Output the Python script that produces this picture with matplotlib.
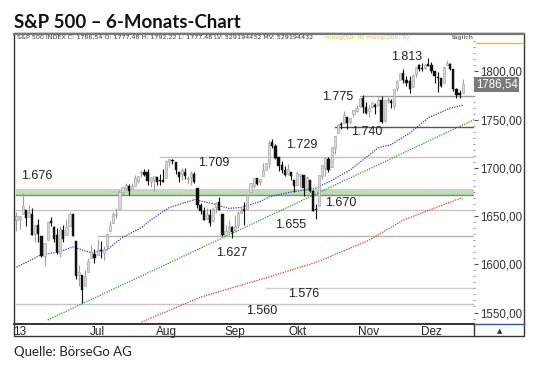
import numpy as np
import matplotlib.pyplot as plt
from matplotlib.patches import Rectangle
from matplotlib.lines import Line2D
from matplotlib.ticker import MultipleLocator

# --- Daten: S&P 500 Tageskerzen 23.05.2013 - 16.12.2013 (Index 0 = 23. Mai) ---
opens = [1646.0, 1647.0, 1652.6, 1656.6, 1649.1, 1652.1,
         1631.7, 1640.7, 1629.1, 1609.0, 1625.3,
         1644.7, 1638.6, 1629.9, 1612.2, 1635.5,
         1630.6, 1639.8, 1651.8, 1624.6, 1588.6,
         1588.8, 1577.5, 1592.3, 1606.4, 1611.1,
         1609.8, 1614.3, 1611.5, 1618.7,
         1634.2, 1642.9, 1651.6, 1657.4, 1675.3,
         1679.6, 1681.0, 1677.9, 1681.1, 1686.2,
         1694.4, 1696.1, 1696.1, 1685.2, 1687.3,
         1690.3, 1687.9, 1687.8,
         1689.4, 1706.1,
         1708.0, 1705.8, 1695.3, 1693.4, 1696.1,
         1688.4, 1690.7, 1693.9, 1679.6, 1661.2,
         1655.3, 1646.8, 1650.7, 1645.0, 1659.9,
         1664.3, 1652.5, 1630.3, 1633.5, 1638.9,
         1635.9, 1640.7, 1653.3, 1657.4,
         1656.9, 1675.1, 1681.0, 1689.2, 1685.0,
         1691.7, 1697.7, 1705.0, 1727.3, 1722.4,
         1711.4, 1702.6, 1698.0, 1694.1, 1695.5,
         1687.3,
         1682.4, 1691.9, 1692.4, 1678.8,
         1687.2, 1676.2, 1657.0, 1660.9, 1691.1,
         1699.9, 1709.2, 1700.5, 1720.2, 1736.7,
         1745.2, 1746.5, 1752.3, 1747.5, 1756.0,
         1759.4, 1762.9, 1772.3, 1763.2,
         1758.7,
         1763.4, 1765.7, 1765.0, 1770.7, 1748.4,
         1770.0, 1769.5, 1764.0, 1782.8, 1790.7,
         1798.8, 1790.8, 1789.6, 1783.5, 1797.2,
         1806.3, 1802.9, 1803.5, 1808.0,
         1806.6, 1800.1, 1794.1, 1792.8, 1788.4,
         1806.2, 1807.6, 1802.8, 1781.7, 1778.0,
         1777.5]
highs = [1654.0, 1649.8, 1674.2, 1656.6, 1661.9, 1658.9,
         1640.4, 1646.5, 1629.3, 1622.6, 1644.4,
         1648.7, 1640.1, 1637.7, 1639.3, 1640.8,
         1646.5, 1654.2, 1652.5, 1624.6, 1599.2,
         1588.8, 1593.8, 1606.8, 1620.1, 1615.9,
         1626.6, 1624.3, 1619.0, 1632.1,
         1644.7, 1654.2, 1657.9, 1676.6, 1680.2,
         1684.5, 1683.0, 1684.8, 1693.1, 1692.1,
         1697.6, 1698.8, 1698.4, 1690.9, 1691.9,
         1690.9, 1693.2, 1698.4,
         1707.9, 1709.7,
         1709.2, 1705.8, 1695.3, 1700.2, 1699.4,
         1691.5, 1696.8, 1695.5, 1679.6, 1663.6,
         1659.2, 1658.9, 1656.9, 1659.6, 1664.9,
         1669.5, 1652.5, 1641.2, 1646.4, 1640.1,
         1651.4, 1655.7, 1659.2, 1664.8,
         1672.4, 1684.1, 1689.1, 1690.0, 1688.7,
         1705.0, 1705.5, 1729.4, 1729.9, 1725.2,
         1711.4, 1707.6, 1701.7, 1703.9, 1695.5,
         1687.3,
         1696.6, 1693.9, 1692.4, 1691.9,
         1687.2, 1676.8, 1662.5, 1692.6, 1703.4,
         1711.0, 1711.6, 1721.8, 1733.5, 1745.3,
         1747.8, 1759.3, 1752.3, 1753.2, 1759.8,
         1765.0, 1772.1, 1775.2, 1768.5,
         1765.7,
         1768.8, 1767.0, 1773.7, 1774.5, 1770.8,
         1773.4, 1771.8, 1782.0, 1791.5, 1798.2,
         1802.3, 1795.5, 1795.7, 1797.2, 1804.8,
         1808.1, 1808.4, 1808.3, 1813.6,
         1810.0, 1800.1, 1799.8, 1792.8, 1806.0,
         1811.5, 1808.5, 1803.0, 1783.0, 1780.9,
         1792.2]
lows = [1635.0, 1636.6, 1652.6, 1640.0, 1648.6, 1630.7,
        1622.7, 1623.6, 1607.1, 1598.2, 1625.3,
        1639.3, 1622.9, 1610.9, 1608.1, 1622.9,
        1630.3, 1639.8, 1628.9, 1584.3, 1577.7,
        1560.3, 1577.1, 1592.3, 1606.4, 1601.1,
        1609.8, 1606.8, 1604.6, 1614.7,
        1634.2, 1642.9, 1647.7, 1657.4, 1672.3,
        1677.9, 1671.8, 1677.9, 1681.1, 1684.1,
        1690.7, 1691.1, 1682.6, 1680.2, 1676.0,
        1681.9, 1682.4, 1684.9,
        1689.4, 1700.7,
        1703.6, 1693.3, 1684.9, 1687.4, 1688.9,
        1683.4, 1682.6, 1684.8, 1658.6, 1652.6,
        1646.1, 1646.8, 1639.4, 1645.0, 1653.3,
        1656.0, 1629.1, 1630.3, 1630.9, 1627.5,
        1633.4, 1637.4, 1653.1, 1640.6,
        1656.9, 1675.1, 1678.7, 1682.0, 1682.2,
        1691.7, 1697.7, 1700.4, 1720.2, 1708.9,
        1697.1, 1694.9, 1691.9, 1693.1, 1687.1,
        1675.0,
        1682.1, 1680.3, 1670.4, 1677.3,
        1674.7, 1655.0, 1646.5, 1660.9, 1688.5,
        1692.1, 1695.9, 1700.5, 1714.1, 1735.7,
        1740.6, 1746.5, 1740.5, 1745.5, 1752.5,
        1757.7, 1762.9, 1757.2, 1755.7,
        1752.7,
        1761.6, 1755.8, 1764.4, 1746.2, 1747.6,
        1767.8, 1762.3, 1760.6, 1780.2, 1790.7,
        1788.4, 1784.7, 1777.2, 1783.5, 1794.7,
        1800.6, 1800.8, 1802.8, 1805.8,
        1798.6, 1787.9, 1779.1, 1783.4, 1788.4,
        1806.2, 1801.8, 1780.1, 1772.3, 1772.5,
        1777.5]
closes = [1650.5, 1649.6, 1660.1, 1648.4, 1654.4, 1630.7,
          1640.4, 1631.4, 1608.9, 1622.6, 1643.4,
          1642.8, 1626.1, 1612.5, 1636.4, 1626.7,
          1639.0, 1651.8, 1628.9, 1588.2, 1592.4,
          1573.1, 1588.0, 1603.3, 1613.2, 1606.3,
          1615.0, 1614.1, 1615.4, 1631.9,
          1640.5, 1652.3, 1652.6, 1675.0, 1680.2,
          1682.5, 1676.3, 1680.9, 1689.4, 1692.1,
          1695.5, 1692.4, 1685.9, 1690.3, 1691.7,
          1685.3, 1686.0, 1685.7,
          1706.9, 1709.7,
          1707.1, 1697.4, 1690.9, 1697.5, 1691.4,
          1689.5, 1694.2, 1685.4, 1661.3, 1655.8,
          1646.1, 1652.4, 1642.8, 1657.0, 1663.5,
          1656.8, 1630.5, 1635.0, 1638.2, 1633.0,
          1639.8, 1653.1, 1655.1, 1655.2,
          1671.7, 1684.0, 1689.1, 1683.4, 1688.0,
          1697.6, 1704.8, 1725.5, 1722.3, 1709.9,
          1701.8, 1697.4, 1692.8, 1698.7, 1691.8,
          1681.6,
          1695.0, 1693.9, 1678.7, 1690.5,
          1676.1, 1655.5, 1656.4, 1692.6, 1703.2,
          1710.1, 1698.1, 1721.5, 1733.2, 1744.5,
          1744.7, 1754.7, 1746.4, 1752.1, 1759.8,
          1762.1, 1772.0, 1763.3, 1756.5,
          1761.6,
          1767.9, 1763.0, 1770.5, 1747.2, 1770.6,
          1771.9, 1767.7, 1782.0, 1790.6, 1798.2,
          1791.5, 1787.9, 1781.4, 1795.9, 1804.8,
          1802.5, 1802.8, 1807.2, 1805.8,
          1800.9, 1795.2, 1792.8, 1785.0, 1805.1,
          1808.4, 1802.6, 1782.2, 1775.5, 1775.3,
          1786.54]

# gleitende Durchschnitte
ma50_days = [0, 8, 14, 18, 24, 29, 34, 40, 43, 49, 57, 60, 64, 68, 72, 78, 81,
             88, 96, 101, 107, 116, 120, 126, 132, 139, 143]
ma50_vals = [1597, 1610, 1613, 1618, 1612, 1615, 1628, 1638, 1646, 1659, 1667,
             1665, 1662, 1658, 1659, 1665, 1670, 1675, 1679, 1687, 1698, 1721,
             1724, 1736, 1752, 1762, 1765]
ma200_days = [40, 59, 81, 96, 113, 124, 141, 143]
ma200_vals = [1540, 1566, 1587, 1602, 1625, 1646, 1667, 1669]
trend_days = [10, 147]
trend_vals = [1542.3, 1750.5]

# Unterstützungen / Widerstände: (Wert, Starttag, Farbe)
levels = [(1711, 46, '#c4c4c4'), (1656, 0, '#c4c4c4'), (1629.5, 26, '#b4b4b4'),
          (1575.5, 80, '#cfcfcf'), (1559, 0, '#c4c4c4'),
          (1774.6, 110, '#9a9a9a'), (1742.4, 102, '#555555')]
band = (1672, 1678)

# Beschriftungen: (Text, Tag, Wert)
labels = [('1.676', 6.6, 1691.6), ('1.709', 63.3, 1705), ('1.729', 91.5, 1723.7),
          ('1.775', 103, 1773.5), ('1.740', 112.3, 1737.2), ('1.813', 125.2, 1815),
          ('1.670', 104, 1663.6), ('1.655', 88, 1640.8), ('1.627', 69.1, 1611.7),
          ('1.576', 92.2, 1569.2), ('1.560', 78.7, 1551.6)]

month_pos = [1, 26, 48, 70, 90, 113, 133]
month_lbl = ['13', 'Jul', 'Aug', 'Sep', 'Okt', 'Nov', 'Dez']
y_ticks = [1550, 1600, 1650, 1700, 1750, 1800]
last_price = 1786.54

W, H = 540, 367
fig = plt.figure(figsize=(W / 100, H / 100), dpi=100)
fig.patch.set_facecolor('white')

def fx(x):
    return x / W

def fy(y):
    return 1 - y / H

ax = fig.add_axes([fx(14), fy(324), 460 / W, (324 - 41) / H])
x0, x1 = -0.8, -0.8 + 460 / 3.12
ax.set_xlim(x0, x1)
ax.set_ylim(1538.1, 1831.6)

# Band und Linien
ax.fill_between([0, x1], band[0], band[1], color='#bddcb7', lw=0, zorder=1)
ax.plot([0, x1], [band[0], band[0]], color='#7d8c7d', lw=1, zorder=1)
for val, start, col in levels:
    ax.plot([start, x1], [val, val], color=col, lw=1, zorder=1)

ax.plot(trend_days, trend_vals, color='#2f9a2f', lw=0.9, ls=(0, (1, 1)), zorder=2)
ax.plot(ma200_days, ma200_vals, color='#e03a3a', lw=0.9, ls=(0, (1, 1)), zorder=2)
ax.plot(ma50_days, ma50_vals, color='#3a3ad0', lw=0.9, ls=(0, (1, 1)), zorder=2)

# Kerzen
o = np.array(opens)
h = np.array(highs)
l = np.array(lows)
c = np.array(closes)
days = np.arange(len(c))
up = c >= o
ax.vlines(days[up], l[up], h[up], color='#a0a0a0', lw=0.8, zorder=3)
ax.vlines(days[~up], l[~up], h[~up], color='#111111', lw=0.8, zorder=3)
body_lo = np.minimum(o, c)
body_h = np.maximum(np.abs(c - o), 0.8)
ax.bar(days[up], body_h[up], bottom=body_lo[up], width=0.7,
       color='#dadada', edgecolor='#9a9a9a', lw=0.4, zorder=4)
ax.bar(days[~up], body_h[~up], bottom=body_lo[~up], width=0.7,
       color='#111111', edgecolor='#111111', lw=0.3, zorder=4)

for txt, d, v in labels:
    ax.text(d, v, txt, ha='center', va='center', fontsize=9,
            family='Liberation Sans', color='#222222', zorder=5)

# Achsen
for s in ['left', 'top', 'right']:
    ax.spines[s].set_visible(False)
ax.spines['bottom'].set_color('#111111')
ax.spines['bottom'].set_linewidth(1.2)
ax.yaxis.tick_right()
ax.set_yticks(y_ticks)
ax.set_yticklabels([f'{t},00' for t in y_ticks], family='Liberation Sans',
                   fontsize=8.3, color='#333333')
ax.yaxis.set_minor_locator(MultipleLocator(6.25))
ax.tick_params(axis='y', which='major', length=3, width=0.8, color='#555555', pad=1.5)
ax.tick_params(axis='y', which='minor', length=1.5, width=0.8, color='#999999',
               direction='inout')
ax.set_xticks(month_pos)
ax.set_xticklabels(month_lbl, family='Liberation Sans', fontsize=8.5, color='#222222')
ax.tick_params(axis='x', length=0, pad=1.5)

# letzter Kurs
ax.text(x1 + 0.6, last_price, f'{last_price:.2f}'.replace('.', ','),
        ha='left', va='center', fontsize=8.3, family='Liberation Sans', color='white',
        bbox=dict(boxstyle='square,pad=0.15', fc='#7a7a7a', ec='none'), clip_on=False)

# Rahmen
fig.add_artist(Rectangle((fx(14), fy(336)), 510 / W, 303 / H, transform=fig.transFigure,
                         fill=False, ec='#333333', lw=1))
fig.add_artist(Line2D([fx(14), fx(524)], [fy(33.5), fy(33.5)], color='#777777', lw=1.6))
fig.add_artist(Line2D([fx(474), fx(474)], [fy(324), fy(336)], color='#333333', lw=1))
fig.add_artist(Line2D([fx(474), fx(524)], [fy(324), fy(324)], color='#3355aa', lw=1))
fig.add_artist(Line2D([fx(476), fx(523)], [fy(42.5), fy(42.5)], color='#e8c020', lw=1))
fig.text(fx(500), fy(331), '\u25b2', ha='center', va='center', fontsize=5, color='#223388')

# Kopfzeile
fig.text(fx(17), fy(37.5), 'S&P 500 INDEX C: 1786,54 O: 1777,48 H: 1792,22 L: 1777,48 '
         'LV: 529194432 MV: 529194432', fontsize=4.6, color='#333333', va='center')
fig.text(fx(325), fy(37.5), 'mavg(50; 0) mavg(200; 0)', fontsize=4.6, color='#d8c040',
         va='center')
fig.text(fx(463), fy(37.5), 'täglich', fontsize=4.6, color='#333333', va='center',
         ha='center')

fig.text(fx(14), fy(28), 'S&P 500 – 6-Monats-Chart', fontsize=13.4, weight='bold',
         family='Lato', color='#111111', va='baseline')
fig.text(fx(14), fy(352), 'Quelle: BörseGo AG', fontsize=9.5, family='Lato',
         color='#222222', va='center')

fig.savefig('out.png', dpi=100)
